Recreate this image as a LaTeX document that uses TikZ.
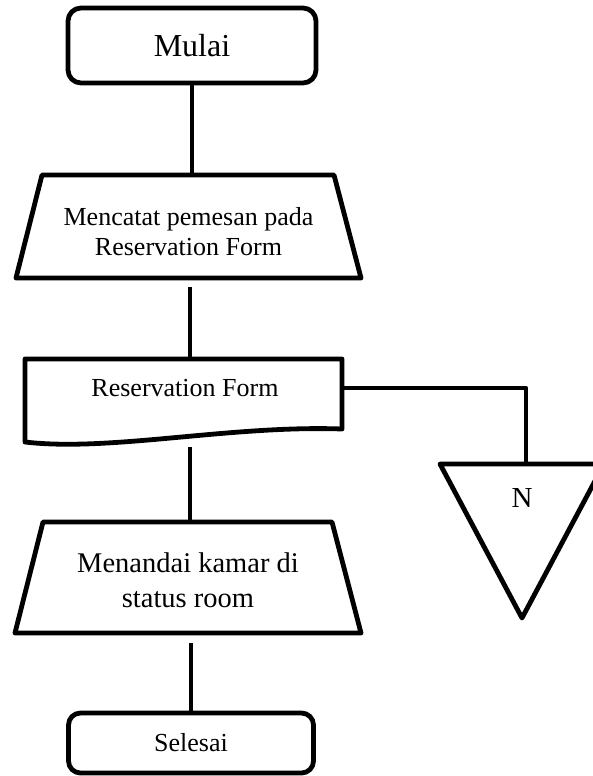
\documentclass[tikz,border=0pt]{standalone}
\usepackage{fontspec}
\setmainfont{Liberation Serif}
\begin{document}
\begin{tikzpicture}[x=1bp,y=-1bp,line width=4.8bp,line join=round,
  termbox/.style={draw,rounded corners=13bp,inner sep=0pt},
  lbl/.style={inner sep=0pt,align=center},
  conn/.style={draw,line width=4.8bp}]
\useasboundingbox (0,0) rectangle (593,776);
\clip (0,0) rectangle (593,776);

% Start
\node[termbox,minimum width=248bp,minimum height=75bp,
      font=\fontsize{32bp}{36bp}\selectfont] (mulai) at (192,45.5) {Mulai};

% Manual input 1
\draw (42,175) -- (334,175) -- (361,278) -- (16,278) -- cycle;
\node[lbl,font=\fontsize{26bp}{30bp}\selectfont] (t1) at (188.5,232)
  {Mencatat pemesan pada\\Reservation Form};
\coordinate (t1n) at (192,175);
\coordinate (t1s) at (190,287);

% Document
\draw (25,359) -- (342,359) -- (342,429)
  .. controls (230,425) and (110,452) .. (25,442) -- cycle;
\node[lbl,font=\fontsize{26bp}{30bp}\selectfont] (doc) at (185,388) {Reservation Form};
\coordinate (docn) at (190,359);
\coordinate (docs) at (190,447);
\coordinate (doce) at (342,388);

% Off-page connector
\draw (440,464) -- (604,464) -- (522,618) -- cycle;
\node[lbl,font=\fontsize{29bp}{33bp}\selectfont] (n) at (522,498) {N};
\coordinate (trin) at (526,464);

% Manual input 2
\draw (43,522) -- (332,522) -- (361,633) -- (15,633) -- cycle;
\node[lbl,font=\fontsize{28.5bp}{35bp}\selectfont] (t2) at (188,580)
  {Menandai kamar di\\status room};
\coordinate (t2n) at (190,522);
\coordinate (t2s) at (191,643);

% End
\node[termbox,rounded corners=12bp,minimum width=245bp,minimum height=60bp,
      font=\fontsize{26bp}{30bp}\selectfont] (selesai) at (191,743) {Selesai};

% Connectors
\draw[conn] (mulai.south) -- (t1n);
\draw[conn] (t1s) -- (docn);
\draw[conn] (docs) -- (t2n);
\draw[conn] (t2s) -- (selesai.north);
\draw[conn] (doce) -| (trin);
\end{tikzpicture}
\end{document}
